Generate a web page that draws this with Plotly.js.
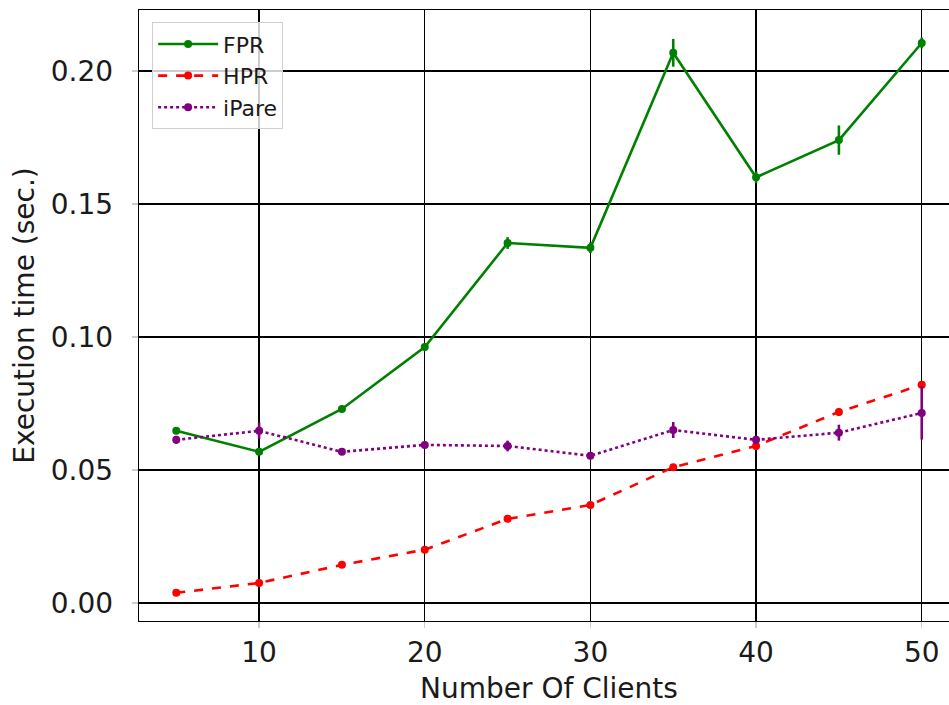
<!DOCTYPE html>
<html>
<head>
<meta charset="utf-8">
<script src="https://cdn.plot.ly/plotly-3.0.1.min.js"></script>
<style>
  html, body { margin: 0; padding: 0; overflow: hidden; background: #fff; }
  #chart { width: 965px; height: 705px; }
</style>
</head>
<body>
<div id="chart"></div>
<script>
// Number of clients on the x axis
const clients = [5, 10, 15, 20, 25, 30, 35, 40, 45, 50];

// Mean execution time (seconds) per scheme
const fprTime   = [0.0647, 0.0568, 0.0729, 0.0962, 0.1353, 0.1335, 0.2068, 0.1600, 0.1740, 0.2105];
const hprTime   = [0.0038, 0.0075, 0.0143, 0.0200, 0.0316, 0.0368, 0.0510, 0.0590, 0.0718, 0.0820];
const ipareTime = [0.0613, 0.0647, 0.0568, 0.0594, 0.0590, 0.0553, 0.0650, 0.0613, 0.0640, 0.0714];

// Standard deviation of each measurement
const fprErr   = [0.0012, 0.0012, 0.0012, 0.0012, 0.0022, 0.0020, 0.0052, 0.0022, 0.0055, 0.0020];
const hprErr   = [0.0008, 0.0008, 0.0008, 0.0008, 0.0008, 0.0008, 0.0010, 0.0015, 0.0015, 0.0010];
const ipareErr = [0.0015, 0.0030, 0.0012, 0.0012, 0.0020, 0.0012, 0.0030, 0.0015, 0.0030, 0.0100];

function series(name, y, err, color, dash) {
  return {
    type: 'scatter',
    mode: 'lines+markers',
    name: name,
    x: clients,
    y: y,
    line: { color: color, width: 2.6, dash: dash },
    marker: { color: color, size: 8 },
    error_y: { type: 'data', array: err, visible: true, color: color, thickness: 2.6, width: 0 }
  };
}

const traces = [
  series('FPR', fprTime, fprErr, '#008000', 'solid'),
  series('HPR', hprTime, hprErr, '#ff0000', 'dash'),
  series('iPare', ipareTime, ipareErr, '#800080', 'dot')
];

const axisCommon = {
  showgrid: true,
  gridcolor: '#000000',
  gridwidth: 1.3,
  zeroline: false,
  showline: true,
  linecolor: '#000000',
  linewidth: 1.3,
  mirror: true,
  ticks: 'outside',
  ticklen: 6,
  tickwidth: 1.3,
  tickcolor: '#cccccc',
  tickfont: { family: 'DejaVu Sans', size: 28, color: '#1a1a1a' }
};

const layout = {
  width: 965,
  height: 705,
  margin: { l: 139, r: 6, t: 10, b: 84 },
  paper_bgcolor: '#ffffff',
  plot_bgcolor: '#ffffff',
  showlegend: true,
  legend: {
    x: 0.016, y: 0.98, xanchor: 'left', yanchor: 'top',
    itemwidth: 60,
    bgcolor: 'rgba(255,255,255,0.8)',
    bordercolor: '#d0d0d0', borderwidth: 1,
    font: { family: 'DejaVu Sans', size: 22, color: '#1a1a1a' }
  },
  xaxis: Object.assign({}, axisCommon, {
    range: [2.75, 52.25],
    tickvals: [10, 20, 30, 40, 50],
    ticklabelstandoff: 0,
    title: { text: 'Number Of Clients', font: { family: 'DejaVu Sans', size: 28, color: '#1a1a1a' }, standoff: 14 }
  }),
  yaxis: Object.assign({}, axisCommon, {
    range: [-0.0068, 0.2229],
    tickvals: [0, 0.05, 0.10, 0.15, 0.20],
    tickformat: '.2f',
    ticklabelstandoff: 13,
    title: { text: 'Execution time (sec.)', font: { family: 'DejaVu Sans', size: 28, color: '#1a1a1a' }, standoff: 8 }
  })
};

Plotly.newPlot('chart', traces, layout, { displayModeBar: false, staticPlot: true });
</script>
</body>
</html>
